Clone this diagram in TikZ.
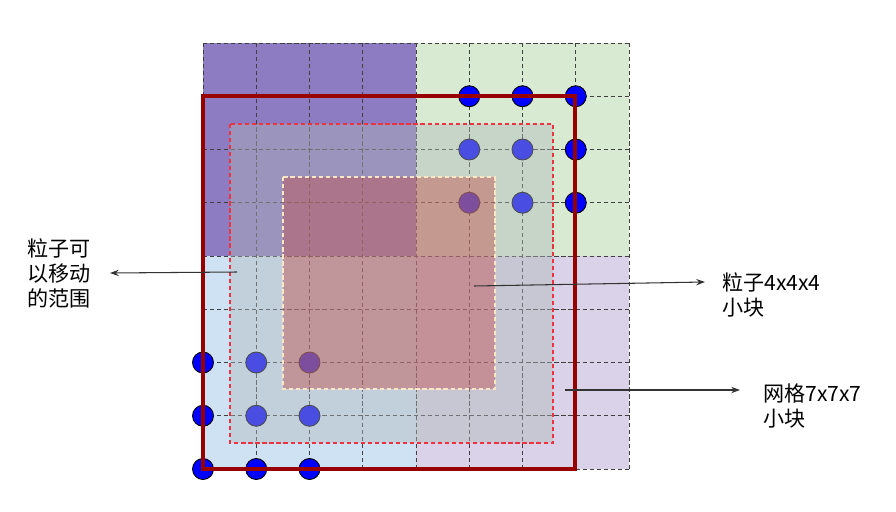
\documentclass[tikz,border=0pt]{standalone}
\usepackage{fontspec}
\setmainfont{Noto Sans CJK SC}
\usepackage{xcolor}
\usetikzlibrary{arrows.meta,positioning}

\definecolor{quadpurple}{HTML}{8E7CC3}
\definecolor{quadgreen}{HTML}{D9EAD3}
\definecolor{quadblue}{HTML}{CFE2F3}
\definecolor{quadlilac}{HTML}{D9D2E9}
\definecolor{meshred}{HTML}{990000}
\definecolor{movegray}{HTML}{AFB8B9}
\definecolor{moveedge}{HTML}{EE3340}
\definecolor{blockred}{HTML}{C0504D}
\definecolor{blockedge}{HTML}{FCE6C6}
\definecolor{dotblue}{HTML}{0000FF}

\begin{document}
\begin{tikzpicture}[x=0.02cm, y=-0.02cm, >={Stealth[length=5pt, width=3.6pt]},
    font=\fontsize{12}{14.2}\selectfont,
    gridline/.style={draw=black!75, line width=0.55pt, dash pattern=on 2.4pt off 1.6pt},
    dot/.style={fill=dotblue, draw=black, line width=0.5pt},
    moverange/.style={fill=movegray, fill opacity=0.42, draw=moveedge, line width=0.7pt, dash pattern=on 2.4pt off 1.6pt},
    block/.style={fill=blockred, fill opacity=0.45, draw=blockedge, line width=1.1pt, dash pattern=on 2.4pt off 1.6pt},
    meshbox/.style={draw=meshred, line width=1.8pt},
    note/.style={align=left, inner sep=0pt},
    pointer/.style={->, draw=black!80, line width=0.6pt}]

  \useasboundingbox (0,0) rectangle (896,511);

  % --- Four quadrants of the 8x8 grid ---
  \fill[quadpurple] (203,43) rectangle (416,256);
  \fill[quadgreen] (416,43) rectangle (629,256);
  \fill[quadblue] (203,256) rectangle (416,469);
  \fill[quadlilac] (416,256) rectangle (629,469);

  \foreach \k in {0,...,8} {
    \draw[gridline] ({203+53.25*\k},43) -- ({203+53.25*\k},469);
    \draw[gridline] (203,{43+53.25*\k}) -- (629,{43+53.25*\k});
  }

  % --- Particles ---
  \foreach \i in {5,6,7}
    \foreach \j in {1,2,3}
      \filldraw[dot] ({203+53.25*\i},{43+53.25*\j}) circle[radius=0.21cm];
  \foreach \i in {0,1,2}
    \foreach \j in {6,7,8}
      \filldraw[dot] ({203+53.25*\i},{43+53.25*\j}) circle[radius=0.21cm];

  % --- Overlays ---
  \path[moverange] (230,124) rectangle (553,443);
  \path[block] (283,177) rectangle (495,389);
  \draw[meshbox] (203,96) rectangle (575,469);

  % --- Labels ---
  \coordinate (move-src) at (237,272);
  \coordinate (move-tip) at (110,273);
  \coordinate (block-src) at (474,286);
  \coordinate (block-tip) at (705,282);
  \coordinate (mesh-src) at (565,390);
  \coordinate (mesh-tip) at (740,390);

  \node[note, left=11pt of move-tip] (move-lbl) {粒子可\\以移动\\的范围};
  \node[note, below right=-5.7pt and 9.6pt of block-tip] (block-lbl) {粒子4x4x4\\小块};
  \node[note, below right=-4pt and 13pt of mesh-tip] (mesh-lbl) {网格7x7x7\\小块};

  \draw[pointer] (move-src) -- (move-tip);
  \draw[pointer] (block-src) -- (block-tip);
  \draw[pointer] (mesh-src) -- (mesh-tip);
\end{tikzpicture}
\end{document}
